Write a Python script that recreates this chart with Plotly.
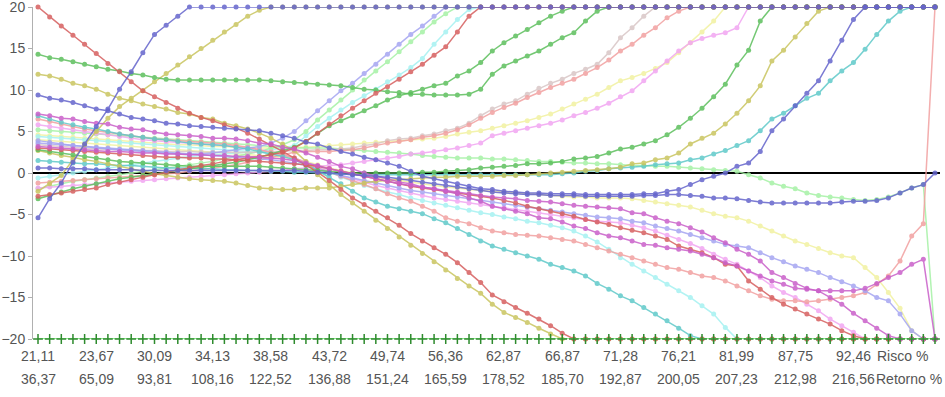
import plotly.graph_objects as go

# ---------------- data ----------------
risco = ["21,11", "23,67", "30,09", "34,13", "38,58", "43,72", "49,74", "56,36",
         "62,87", "66,87", "71,28", "76,21", "81,99", "87,75", "92,46"]
retorno = ["36,37", "65,09", "93,81", "108,16", "122,52", "136,88", "151,24", "165,59",
           "178,52", "185,70", "192,87", "200,05", "207,23", "212,98", "216,56"]
tick_pos = [0, 5, 10, 15, 20, 25, 30, 35, 40, 45, 50, 55, 60, 65, 70]

red_a = [20.0, 18.8, 17.7, 16.6, 15.5, 14.4, 13.2, 12.2, 11.0, 9.9,
         9.2, 8.5, 7.8, 7.2, 6.7, 6.3, 5.8, 5.4, 4.8, 4.1,
         3.4, 2.6, 1.8, 1.0, 0.1, -0.9, -2.0, -3.0, -3.8, -4.6,
         -5.4, -6.3, -7.3, -8.2, -9.0, -9.8, -10.8, -12.0, -13.2, -14.7,
         -15.5, -16.2, -16.9, -17.6, -18.4, -19.3, -20, -20, -20, -20,
         -20, -20, -20, -20, -20, -20, -20, -20, -20, -20,
         -20, -20, -20, -20, -20, -20, -20, -20, -20, -20,
         -20, -20, -20, -20, -20, -20, -20, -20]
olive_a = [11.9, 11.7, 11.3, 10.8, 10.5, 10.1, 9.5, 9.0, 8.7, 8.3,
           8.0, 7.7, 7.3, 7.1, 6.7, 6.5, 6.0, 5.7, 5.3, 4.8,
           4.2, 3.5, 2.7, 1.4, -0.2, -1.4, -2.6, -3.6, -4.6, -5.7,
           -6.7, -7.7, -8.7, -9.7, -10.7, -11.7, -12.7, -13.6, -14.5, -15.8,
           -16.8, -17.4, -18.0, -18.7, -19.4, -20, -20, -20, -20, -20,
           -20, -20, -20, -20, -20, -20, -20, -20, -20, -20,
           -20, -20, -20, -20, -20, -20, -20, -20, -20, -20,
           -20, -20, -20, -20, -20, -20, -20, -20]
blue_a = [-5.4, -3.1, -1.2, 1.3, 3.5, 5.6, 7.7, 10.1, 12.2, 14.5,
          16.7, 17.8, 18.9, 20, 20, 20, 20, 20, 20, 20,
          20, 20, 20, 20, 20, 20, 20, 20, 20, 20,
          20, 20, 20, 20, 20, 20, 20, 20, 20, 20,
          20, 20, 20, 20, 20, 20, 20, 20, 20, 20,
          20, 20, 20, 20, 20, 20, 20, 20, 20, 20,
          20, 20, 20, 20, 20, 20, 20, 20, 20, 20,
          20, 20, 20, 20, 20, 20, 20, 20]
olive_b = [-2.2, -1.3, -0.3, 1.6, 3.4, 5.0, 6.6, 8.0, 9.0, 9.9,
           11.0, 12.0, 13.0, 14.0, 15.0, 16.0, 17.0, 17.9, 18.9, 19.6,
           20, 20, 20, 20, 20, 20, 20, 20, 20, 20,
           20, 20, 20, 20, 20, 20, 20, 20, 20, 20,
           20, 20, 20, 20, 20, 20, 20, 20, 20, 20,
           20, 20, 20, 20, 20, 20, 20, 20, 20, 20,
           20, 20, 20, 20, 20, 20, 20, 20, 20, 20,
           20, 20, 20, 20, 20, 20, 20, 20]
green_a = [14.3, 13.9, 13.7, 13.4, 13.1, 12.8, 12.5, 12.3, 12.0, 11.8,
           11.5, 11.3, 11.2, 11.2, 11.2, 11.2, 11.2, 11.2, 11.2, 11.2,
           11.1, 11.0, 10.9, 10.8, 10.7, 10.6, 10.5, 10.3, 10.1, 10.0,
           9.8, 9.7, 9.5, 9.5, 9.4, 9.4, 9.4, 9.5, 10.1, 11.9,
           12.9, 13.5, 14.1, 14.7, 15.5, 16.3, 16.9, 18.3, 19.5, 20,
           20, 20, 20, 20, 20, 20, 20, 20, 20, 20,
           20, 20, 20, 20, 20, 20, 20, 20, 20, 20,
           20, 20, 20, 20, 20, 20, 20, 20]
green_b = [-3.1, -2.7, -2.3, -1.9, -1.6, -1.3, -1.0, -0.7, -0.5, -0.3,
           -0.1, 0.1, 0.3, 0.5, 0.7, 0.9, 1.1, 1.3, 1.6, 1.9,
           2.3, 2.7, 3.1, 3.8, 4.8, 5.7, 6.3, 6.9, 7.5, 8.1,
           8.8, 9.3, 9.7, 10.1, 10.5, 10.8, 11.7, 12.3, 13.3, 14.7,
           15.7, 16.5, 17.3, 18.1, 18.9, 19.5, 20, 20, 20, 20,
           20, 20, 20, 20, 20, 20, 20, 20, 20, 20,
           20, 20, 20, 20, 20, 20, 20, 20, 20, 20,
           20, 20, 20, 20, 20, 20, 20, 20]
green_c = [2.8, 2.6, 2.4, 2.2, 2.0, 1.8, 1.6, 1.4, 1.3, 1.2,
           1.1, 1.0, 0.9, 0.8, 0.8, 0.8, 0.8, 0.8, 0.8, 0.8,
           0.7, 0.6, 0.5, 0.4, 0.3, 0.2, 0.1, 0.0, 0.0, 0.0,
           0.0, 0.0, 0.0, 0.1, 0.1, 0.2, 0.3, 0.4, 0.6, 0.7,
           0.8, 0.9, 1.1, 1.1, 1.2, 1.4, 1.7, 1.8, 2.0, 2.4,
           2.9, 3.1, 3.5, 3.9, 4.6, 5.5, 6.6, 7.8, 9.2, 10.7,
           13.0, 14.8, 18.3, 20, 20, 20, 20, 20, 20, 20,
           20, 20, 20, 20, 20, 20, 20, 20]
blue_b = [9.4, 9.0, 8.8, 8.5, 8.1, 7.7, 7.5, 7.1, 6.7, 6.5,
          6.3, 6.0, 5.9, 5.7, 5.6, 5.5, 5.4, 5.3, 5.2, 5.1,
          4.8, 4.5, 4.2, 3.7, 3.5, 3.0, 2.6, 2.3, 1.9, 1.6,
          1.2, 0.8, 0.2, -0.4, -0.7, -1.0, -1.3, -1.6, -1.9, -2.0,
          -2.2, -2.3, -2.4, -2.4, -2.5, -2.5, -2.5, -2.6, -2.6, -2.6,
          -2.6, -2.6, -2.5, -2.5, -2.2, -2.0, -1.4, -0.8, -0.4, 0.0,
          0.8, 1.2, 2.6, 5.1, 6.5, 8.1, 9.6, 11.1, 13.5, 16.0,
          18.5, 20, 20, 20, 20, 20, 20, 20]
blue_c = [0.6, 0.6, 0.5, 0.5, 0.5, 0.4, 0.4, 0.4, 0.4, 0.3,
          0.3, 0.3, 0.3, 0.3, 0.3, 0.3, 0.3, 0.3, 0.3, 0.3,
          0.3, 0.3, 0.3, 0.2, 0.1, 0.0, -0.1, -0.2, -0.3, -0.4,
          -0.5, -0.7, -0.9, -1.1, -1.3, -1.5, -1.7, -1.9, -2.1, -2.3,
          -2.4, -2.5, -2.6, -2.6, -2.7, -2.7, -2.7, -2.8, -2.8, -2.8,
          -2.8, -2.8, -2.7, -2.7, -2.6, -2.6, -2.7, -2.8, -3.0, -3.0,
          -3.1, -3.3, -3.5, -3.6, -3.6, -3.6, -3.6, -3.6, -3.6, -3.5,
          -3.4, -3.4, -3.3, -3.0, -2.4, -1.8, -1.4, 0.0]
magenta_a = [7.1, 6.9, 6.6, 6.5, 6.2, 6.0, 5.9, 5.5, 5.3, 5.2,
             4.9, 4.7, 4.6, 4.5, 4.4, 4.2, 4.2, 4.1, 3.9, 3.6,
             3.5, 3.1, 2.9, 2.4, 1.9, 1.4, 0.8, 0.5, 0.0, -0.4,
             -0.7, -1.1, -1.3, -1.7, -1.9, -2.2, -2.5, -3.0, -3.4, -4.0,
             -4.3, -4.6, -4.9, -5.4, -5.5, -5.9, -6.4, -6.7, -7.2, -7.6,
             -7.8, -8.2, -8.6, -8.7, -9.0, -9.2, -9.4, -9.8, -10.2, -10.8,
             -11.2, -11.8, -12.4, -13.0, -13.4, -13.9, -14.0, -14.2, -14.2, -14.2,
             -14.2, -13.9, -13.3, -12.6, -12.0, -11.0, -10.4, -20]
magenta_b = [3.2, 3.1, 3.0, 2.9, 2.8, 2.7, 2.6, 2.6, 2.5, 2.4,
             2.4, 2.3, 2.3, 2.2, 2.2, 2.1, 2.1, 2.0, 2.0, 1.9,
             1.8, 1.7, 1.5, 1.2, 0.9, 0.5, 0.2, -0.1, -0.4, -0.7,
             -1.0, -1.3, -1.5, -1.7, -1.9, -2.1, -2.3, -2.5, -2.7, -2.9,
             -3.0, -3.1, -3.3, -3.4, -3.5, -3.7, -3.9, -4.0, -4.1, -4.2,
             -4.3, -4.8, -4.9, -5.4, -5.8, -6.1, -6.6, -7.1, -7.8, -8.4,
             -9.2, -9.8, -10.6, -12.0, -12.6, -13.3, -13.9, -14.2, -15.0, -15.8,
             -16.9, -17.8, -18.7, -19.6, -20, -20, -20, -20]
teal_a = [6.9, 6.5, 6.1, 5.8, 5.5, 5.3, 5.0, 4.7, 4.5, 4.3,
          4.1, 4.0, 3.8, 3.6, 3.5, 3.4, 3.3, 3.1, 2.9, 2.6,
          2.3, 2.0, 1.6, 1.0, 0.3, -0.5, -1.3, -2.2, -3.0, -3.5,
          -4.0, -4.3, -4.6, -4.9, -5.5, -6.0, -6.7, -7.4, -8.2, -8.8,
          -9.2, -9.6, -10.0, -10.4, -11.0, -11.4, -11.8, -12.4, -13.3, -14.0,
          -14.8, -15.4, -16.2, -17.0, -17.8, -18.7, -19.6, -20, -20, -20,
          -20, -20, -20, -20, -20, -20, -20, -20, -20, -20,
          -20, -20, -20, -20, -20, -20, -20, -20]
teal_b = [1.5, 1.4, 1.3, 1.2, 1.1, 1.1, 1.0, 0.9, 0.9, 0.8,
          0.7, 0.6, 0.6, 0.6, 0.5, 0.5, 0.4, 0.4, 0.3, 0.3,
          0.2, 0.2, 0.1, 0.1, 0.0, -0.1, -0.1, -0.2, -0.2, -0.2,
          -0.2, -0.2, -0.2, -0.2, -0.2, -0.2, -0.2, -0.2, -0.2, -0.2,
          -0.2, -0.2, -0.2, -0.2, -0.2, -0.1, 0.0, 0.2, 0.3, 0.5,
          0.6, 0.7, 0.8, 1.0, 1.1, 1.2, 1.6, 1.8, 2.3, 2.7,
          3.3, 3.9, 5.1, 6.5, 7.2, 8.1, 9.0, 9.6, 11.1, 12.3,
          13.3, 14.9, 16.7, 18.3, 19.5, 20, 20, 20]
red_b = [-2.8, -2.6, -2.4, -2.2, -2.0, -1.8, -1.4, -1.1, -0.8, -0.5,
         -0.2, 0.1, 0.4, 0.6, 0.9, 1.1, 1.4, 1.6, 1.8, 2.0,
         2.2, 2.5, 3.0, 3.8, 4.8, 5.9, 6.9, 7.8, 8.7, 9.6,
         10.4, 11.3, 12.2, 13.1, 14.2, 15.2, 17.0, 18.9, 20, 20,
         20, 20, 20, 20, 20, 20, 20, 20, 20, 20,
         20, 20, 20, 20, 20, 20, 20, 20, 20, 20,
         20, 20, 20, 20, 20, 20, 20, 20, 20, 20,
         20, 20, 20, 20, 20, 20, 20, 20]
red_c = [3.0, 2.9, 2.8, 2.7, 2.6, 2.5, 2.4, 2.3, 2.2, 2.1,
         2.0, 1.9, 1.9, 1.8, 1.8, 1.7, 1.7, 1.6, 1.5, 1.4,
         1.3, 1.2, 1.1, 1.0, 0.8, 0.5, 0.2, -0.1, -0.4, -0.7,
         -1.0, -1.3, -1.6, -1.8, -2.0, -2.2, -2.4, -2.6, -2.8, -3.0,
         -3.3, -3.6, -4.0, -4.3, -4.6, -4.9, -5.2, -5.6, -5.9, -6.2,
         -6.6, -6.9, -7.2, -7.6, -8.0, -8.8, -9.2, -9.6, -10.2, -11.0,
         -11.2, -13.0, -14.0, -15.0, -15.8, -16.4, -17.0, -17.6, -18.2, -19.0,
         -19.6, -20, -20, -20, -20, -20, -20, -20]
olive_c = [2.7, 2.4, 2.1, 1.9, 1.6, 1.4, 1.1, 0.8, 0.5, 0.2,
           -0.1, -0.3, -0.5, -0.7, -0.8, -0.9, -1.0, -1.2, -1.5, -1.8,
           -1.9, -2.0, -2.0, -1.8, -1.8, -1.8, -1.6, -1.4, -1.2, -1.0,
           -0.9, -0.8, -0.7, -0.6, -0.5, -0.5, -0.4, -0.4, -0.4, -0.4,
           -0.3, -0.3, -0.2, -0.1, 0.0, 0.1, 0.2, 0.3, 0.4, 0.5,
           0.7, 1.1, 1.2, 1.6, 1.8, 2.4, 3.5, 4.2, 4.8, 5.9,
           7.2, 8.7, 10.5, 13.5, 14.8, 16.4, 18.0, 19.5, 20, 20,
           20, 20, 20, 20, 20, 20, 20, 20]
pink_a = [6.5, 6.2, 5.9, 5.6, 5.3, 5.1, 4.9, 4.7, 4.5, 4.3,
          4.1, 4.0, 3.9, 3.8, 3.7, 3.6, 3.5, 3.3, 3.1, 2.8,
          2.5, 2.2, 1.8, 1.2, 0.6, 0.1, -0.4, -0.9, -1.4, -1.9,
          -2.5, -3.0, -3.4, -4.0, -4.6, -5.4, -5.8, -6.1, -6.6, -7.0,
          -7.2, -7.4, -7.5, -7.6, -7.8, -8.0, -8.2, -8.6, -9.0, -9.4,
          -9.8, -10.2, -10.6, -11.0, -11.4, -11.6, -12.0, -12.4, -12.6, -13.0,
          -13.6, -14.2, -14.8, -15.2, -15.4, -15.4, -15.5, -15.4, -15.2, -15.0,
          -14.8, -14.4, -13.4, -12.4, -10.6, -7.6, -6.1, 20]
pink_b = [-1.2, -1.1, -1.0, -0.9, -0.8, -0.7, -0.6, -0.5, -0.4, -0.3,
          -0.2, -0.1, 0.0, 0.2, 0.4, 0.6, 0.8, 1.0, 1.3, 1.6,
          1.9, 2.2, 2.5, 2.6, 2.6, 2.6, 2.7, 2.8, 3.0, 3.3,
          3.6, 3.8, 4.0, 4.3, 4.5, 4.8, 5.2, 5.8, 6.6, 7.3,
          7.9, 8.4, 9.1, 9.7, 10.3, 10.8, 11.3, 12.0, 12.7, 13.6,
          14.7, 15.5, 16.6, 17.5, 18.7, 19.5, 20, 20, 20, 20,
          20, 20, 20, 20, 20, 20, 20, 20, 20, 20,
          20, 20, 20, 20, 20, 20, 20, 20]
grey_a = [3.4, 3.3, 3.2, 3.1, 3.0, 2.9, 2.9, 2.8, 2.8, 2.7,
          2.7, 2.6, 2.6, 2.6, 2.5, 2.5, 2.5, 2.5, 2.5, 2.5,
          2.6, 2.6, 2.7, 2.7, 2.8, 2.8, 2.9, 3.0, 3.3, 3.5,
          3.9, 4.1, 4.2, 4.5, 4.7, 5.1, 5.4, 6.0, 6.9, 7.7,
          8.3, 8.7, 9.5, 10.2, 10.8, 11.3, 12.0, 12.5, 13.1, 14.5,
          16.3, 17.5, 18.9, 20, 20, 20, 20, 20, 20, 20,
          20, 20, 20, 20, 20, 20, 20, 20, 20, 20,
          20, 20, 20, 20, 20, 20, 20, 20]
lav_a = [3.9, 3.7, 3.5, 3.3, 3.2, 3.0, 2.9, 2.8, 2.7, 2.6,
         2.5, 2.4, 2.3, 2.3, 2.3, 2.4, 2.6, 2.8, 3.0, 3.2,
         3.6, 4.2, 5.0, 6.3, 7.5, 8.7, 9.9, 10.8, 12.0, 13.1,
         14.3, 15.5, 16.7, 17.7, 18.9, 20, 20, 20, 20, 20,
         20, 20, 20, 20, 20, 20, 20, 20, 20, 20,
         20, 20, 20, 20, 20, 20, 20, 20, 20, 20,
         20, 20, 20, 20, 20, 20, 20, 20, 20, 20,
         20, 20, 20, 20, 20, 20, 20, 20]
lav_b = [3.6, 3.5, 3.4, 3.3, 3.2, 3.1, 3.0, 2.9, 2.8, 2.7,
         2.6, 2.5, 2.4, 2.3, 2.2, 2.1, 2.0, 1.9, 1.8, 1.7,
         1.6, 1.4, 1.2, 0.9, 0.5, 0.1, -0.3, -0.6, -0.9, -1.2,
         -1.5, -1.8, -2.1, -2.3, -2.5, -2.7, -2.9, -3.1, -3.3, -3.5,
         -3.7, -3.9, -4.1, -4.3, -4.5, -4.7, -4.9, -5.1, -5.3, -5.4,
         -5.5, -5.8, -6.0, -6.4, -6.7, -7.0, -7.4, -7.8, -8.2, -8.6,
         -8.8, -9.0, -9.6, -10.2, -10.7, -11.2, -11.6, -12.0, -12.6, -13.1,
         -13.6, -14.2, -15.0, -15.4, -17.0, -19.0, -20, -20]
lgreen_a = [-1.9, -1.6, -1.3, -1.0, -0.8, -0.6, -0.4, -0.2, 0.0, 0.2,
            0.4, 0.6, 0.8, 1.0, 1.2, 1.4, 1.7, 2.0, 2.3, 2.6,
            3.0, 3.4, 4.0, 5.0, 6.4, 7.6, 8.8, 10.0, 11.2, 12.3,
            13.4, 14.6, 15.8, 17.0, 18.2, 19.2, 20, 20, 20, 20,
            20, 20, 20, 20, 20, 20, 20, 20, 20, 20,
            20, 20, 20, 20, 20, 20, 20, 20, 20, 20,
            20, 20, 20, 20, 20, 20, 20, 20, 20, 20,
            20, 20, 20, 20, 20, 20, 20, 20]
lgreen_b = [5.2, 5.1, 5.0, 4.9, 4.8, 4.7, 4.6, 4.5, 4.4, 4.3,
            4.2, 4.1, 4.0, 3.9, 3.8, 3.7, 3.6, 3.5, 3.4, 3.3,
            3.2, 3.1, 3.0, 3.0, 3.0, 3.0, 2.9, 2.8, 2.7, 2.6,
            2.5, 2.4, 2.3, 2.1, 2.0, 1.9, 1.8, 1.8, 1.8, 1.7,
            1.7, 1.6, 1.5, 1.4, 1.4, 1.3, 1.2, 1.2, 1.1, 1.1,
            1.0, 0.9, 0.9, 0.8, 0.8, 0.7, 0.6, 0.5, 0.4, 0.3,
            0.2, -0.2, -0.6, -1.2, -1.6, -1.9, -2.4, -2.7, -2.9, -3.0,
            -3.2, -3.3, -3.2, -2.9, -2.4, -1.8, -1.4, -20]
lcyan_a = [-0.6, -0.4, -0.2, 0.0, 0.2, 0.4, 0.6, 0.8, 1.0, 1.2,
           1.4, 1.6, 1.8, 2.0, 2.1, 2.2, 2.3, 2.4, 2.5, 2.6,
           2.8, 3.0, 3.3, 4.5, 5.6, 6.6, 7.6, 8.5, 9.3, 10.1,
           11.0, 11.8, 12.7, 13.8, 15.5, 17.0, 18.5, 19.7, 20, 20,
           20, 20, 20, 20, 20, 20, 20, 20, 20, 20,
           20, 20, 20, 20, 20, 20, 20, 20, 20, 20,
           20, 20, 20, 20, 20, 20, 20, 20, 20, 20,
           20, 20, 20, 20, 20, 20, 20, 20]
lcyan_b = [4.4, 4.3, 4.2, 4.1, 4.0, 3.9, 3.8, 3.7, 3.6, 3.5,
           3.4, 3.3, 3.2, 3.1, 3.0, 2.9, 2.8, 2.7, 2.6, 2.5,
           2.3, 2.1, 1.8, 1.3, 0.8, 0.2, -0.5, -1.0, -1.5, -1.9,
           -2.3, -2.6, -3.0, -3.3, -3.6, -3.9, -4.2, -4.5, -4.8, -5.0,
           -5.3, -5.5, -5.8, -6.0, -6.3, -6.6, -7.0, -7.6, -8.3, -9.2,
           -10.2, -11.0, -11.8, -12.6, -13.4, -14.2, -15.0, -16.0, -17.0, -18.6,
           -20, -20, -20, -20, -20, -20, -20, -20, -20, -20,
           -20, -20, -20, -20, -20, -20, -20, -20]
lyellow_a = [4.6, 4.5, 4.4, 4.3, 4.2, 4.1, 4.0, 3.9, 3.8, 3.7,
             3.6, 3.5, 3.4, 3.4, 3.3, 3.2, 3.2, 3.1, 3.1, 3.0,
             3.0, 3.0, 3.1, 3.1, 3.2, 3.3, 3.4, 3.5, 3.6, 3.7,
             3.8, 3.9, 4.0, 4.1, 4.2, 4.4, 4.7, 4.9, 5.1, 5.4,
             5.7, 6.0, 6.3, 6.7, 7.1, 7.7, 8.3, 8.9, 9.5, 10.3,
             11.1, 11.5, 12.0, 12.6, 13.3, 14.5, 15.7, 17.0, 18.3, 20,
             20, 20, 20, 20, 20, 20, 20, 20, 20, 20,
             20, 20, 20, 20, 20, 20, 20, 20]
lyellow_b = [4.0, 3.9, 3.8, 3.7, 3.6, 3.5, 3.4, 3.3, 3.2, 3.1,
             3.0, 2.9, 2.8, 2.7, 2.6, 2.5, 2.4, 2.3, 2.2, 2.1,
             2.0, 1.9, 1.7, 1.4, 1.0, 0.6, 0.3, 0.0, -0.3, -0.5,
             -0.7, -0.9, -1.1, -1.3, -1.5, -1.7, -1.8, -2.0, -2.1, -2.2,
             -2.3, -2.4, -2.5, -2.6, -2.7, -2.8, -2.9, -2.9, -3.0, -3.0,
             -3.0, -3.1, -3.3, -3.5, -3.7, -3.9, -4.1, -4.5, -4.9, -5.2,
             -5.4, -5.8, -6.4, -7.0, -7.6, -8.2, -8.6, -9.1, -9.6, -10.0,
             -10.2, -11.4, -12.6, -14.4, -16.3, -19.0, -20, -20]
lpink_a = [-1.8, -1.7, -1.6, -1.5, -1.4, -1.3, -1.2, -1.1, -1.0, -0.9,
           -0.8, -0.7, -0.6, -0.5, -0.4, -0.3, -0.2, -0.1, 0.0, 0.1,
           0.2, 0.3, 0.5, 0.6, 0.8, 0.9, 1.0, 1.2, 1.4, 1.6,
           1.8, 2.0, 2.3, 2.4, 2.6, 2.8, 3.0, 3.3, 3.6, 4.5,
           4.8, 5.1, 5.4, 5.7, 6.0, 6.4, 6.9, 7.3, 7.8, 8.4,
           9.2, 9.9, 11.1, 12.3, 13.5, 14.7, 15.7, 16.2, 16.6, 16.9,
           17.5, 20, 20, 20, 20, 20, 20, 20, 20, 20,
           20, 20, 20, 20, 20, 20, 20, 20]
lpink_b = [5.8, 5.6, 5.4, 5.2, 5.0, 4.8, 4.6, 4.4, 4.2, 4.0,
           3.9, 3.8, 3.7, 3.6, 3.5, 3.4, 3.3, 3.2, 3.0, 2.8,
           2.5, 2.2, 1.8, 1.3, 0.7, 0.2, -0.3, -0.7, -1.1, -1.5,
           -1.8, -2.1, -2.4, -2.7, -3.0, -3.2, -3.4, -3.6, -3.8, -4.0,
           -4.2, -4.4, -4.6, -4.8, -5.0, -5.2, -5.4, -5.6, -5.8, -5.9,
           -6.0, -6.3, -6.6, -7.0, -7.5, -8.0, -8.5, -9.1, -9.8, -10.4,
           -11.0, -11.8, -12.6, -13.6, -14.4, -15.0, -15.8, -16.6, -17.6, -18.4,
           -19.2, -20, -20, -20, -20, -20, -20, -20]
floor_a = [-20] * 78  # series pinned at the lower bound across the whole frontier

# ---------------- styles ----------------
RED, BLUE, OLIVE, GREEN = "#d65f5f", "#6464cc", "#c9c55f", "#5cbf5c"
MAGENTA, TEAL, PINK, LAV = "#c95fc9", "#5fc9c9", "#f2a0a0", "#a5a5f2"
LGREEN, LYELLOW, LPINK, LCYAN, GREY = "#a5f2a5", "#f2f2a0", "#f2a5f2", "#a5f2f2", "#d9c6c6"

series = [
    (lyellow_a, LYELLOW), (lyellow_b, LYELLOW), (lcyan_a, LCYAN), (lcyan_b, LCYAN),
    (lgreen_a, LGREEN), (lgreen_b, LGREEN), (lpink_a, LPINK), (lpink_b, LPINK),
    (grey_a, GREY), (pink_a, PINK), (pink_b, PINK), (lav_a, LAV), (lav_b, LAV),
    (teal_b, TEAL), (teal_a, TEAL), (olive_c, OLIVE), (olive_b, OLIVE), (olive_a, OLIVE),
    (green_c, GREEN), (green_b, GREEN), (green_a, GREEN), (red_c, RED), (red_b, RED),
    (red_a, RED), (magenta_b, MAGENTA), (magenta_a, MAGENTA), (blue_c, BLUE),
    (blue_b, BLUE), (blue_a, BLUE),
]
n = 78
idx = list(range(n))
for s, _ in series:
    assert len(s) == n, len(s)

fig = go.Figure()
for vals, col in series:
    fig.add_trace(go.Scatter(
        x=idx, y=vals, mode="lines+markers", cliponaxis=False,
        line=dict(color=col, width=1.5), marker=dict(color=col, size=5),
        opacity=0.85, showlegend=False, hoverinfo="skip"))

fig.add_trace(go.Scatter(
    x=idx, y=floor_a, mode="lines+markers", cliponaxis=False,
    line=dict(color="#90ee90", width=2),
    marker=dict(symbol="cross-thin", size=7, color="#2e8b2e",
                line=dict(color="#2e8b2e", width=1.5)),
    showlegend=False, hoverinfo="skip"))

FONT = dict(family="Arial, Liberation Sans, sans-serif", size=14, color="#555555")

for p, r, t in zip(tick_pos, risco, retorno):
    fig.add_annotation(x=p, y=-0.051, xref="x", yref="paper", text=r,
                       showarrow=False, yanchor="middle", font=FONT)
    fig.add_annotation(x=p, y=-0.121, xref="x", yref="paper", text=t,
                       showarrow=False, yanchor="middle", font=FONT)
fig.add_annotation(x=71.85, y=-0.051, xref="x", yref="paper", text="Risco %",
                   showarrow=False, xanchor="left", yanchor="middle", font=FONT)
fig.add_annotation(x=71.85, y=-0.121, xref="x", yref="paper", text="Retorno %",
                   showarrow=False, xanchor="left", yanchor="middle", font=FONT,
                   bgcolor="white", borderpad=0)

fig.update_layout(
    width=945, height=397,
    margin=dict(l=33, r=5, t=7, b=58, autoexpand=False),
    paper_bgcolor="white", plot_bgcolor="white",
    font=FONT,
    xaxis=dict(range=[-0.43, 77.43], showticklabels=False, showgrid=False,
               zeroline=False, showline=False, ticks="", automargin=False),
    yaxis=dict(range=[-20, 20], tickvals=[-20, -15, -10, -5, 0, 5, 10, 15, 20],
               showgrid=False, zeroline=True, zerolinecolor="black", zerolinewidth=2,
               showline=True, linecolor="#b0b0b0", linewidth=1, automargin=False,
               ticklabeloverflow="allow",
               ticks="outside", ticklen=4, tickcolor="#b0b0b0", tickfont=FONT),
)
fig.write_html("out.html", config={"displayModeBar": False},
               post_script="document.body.style.margin='0px';document.body.style.overflow='hidden';")
